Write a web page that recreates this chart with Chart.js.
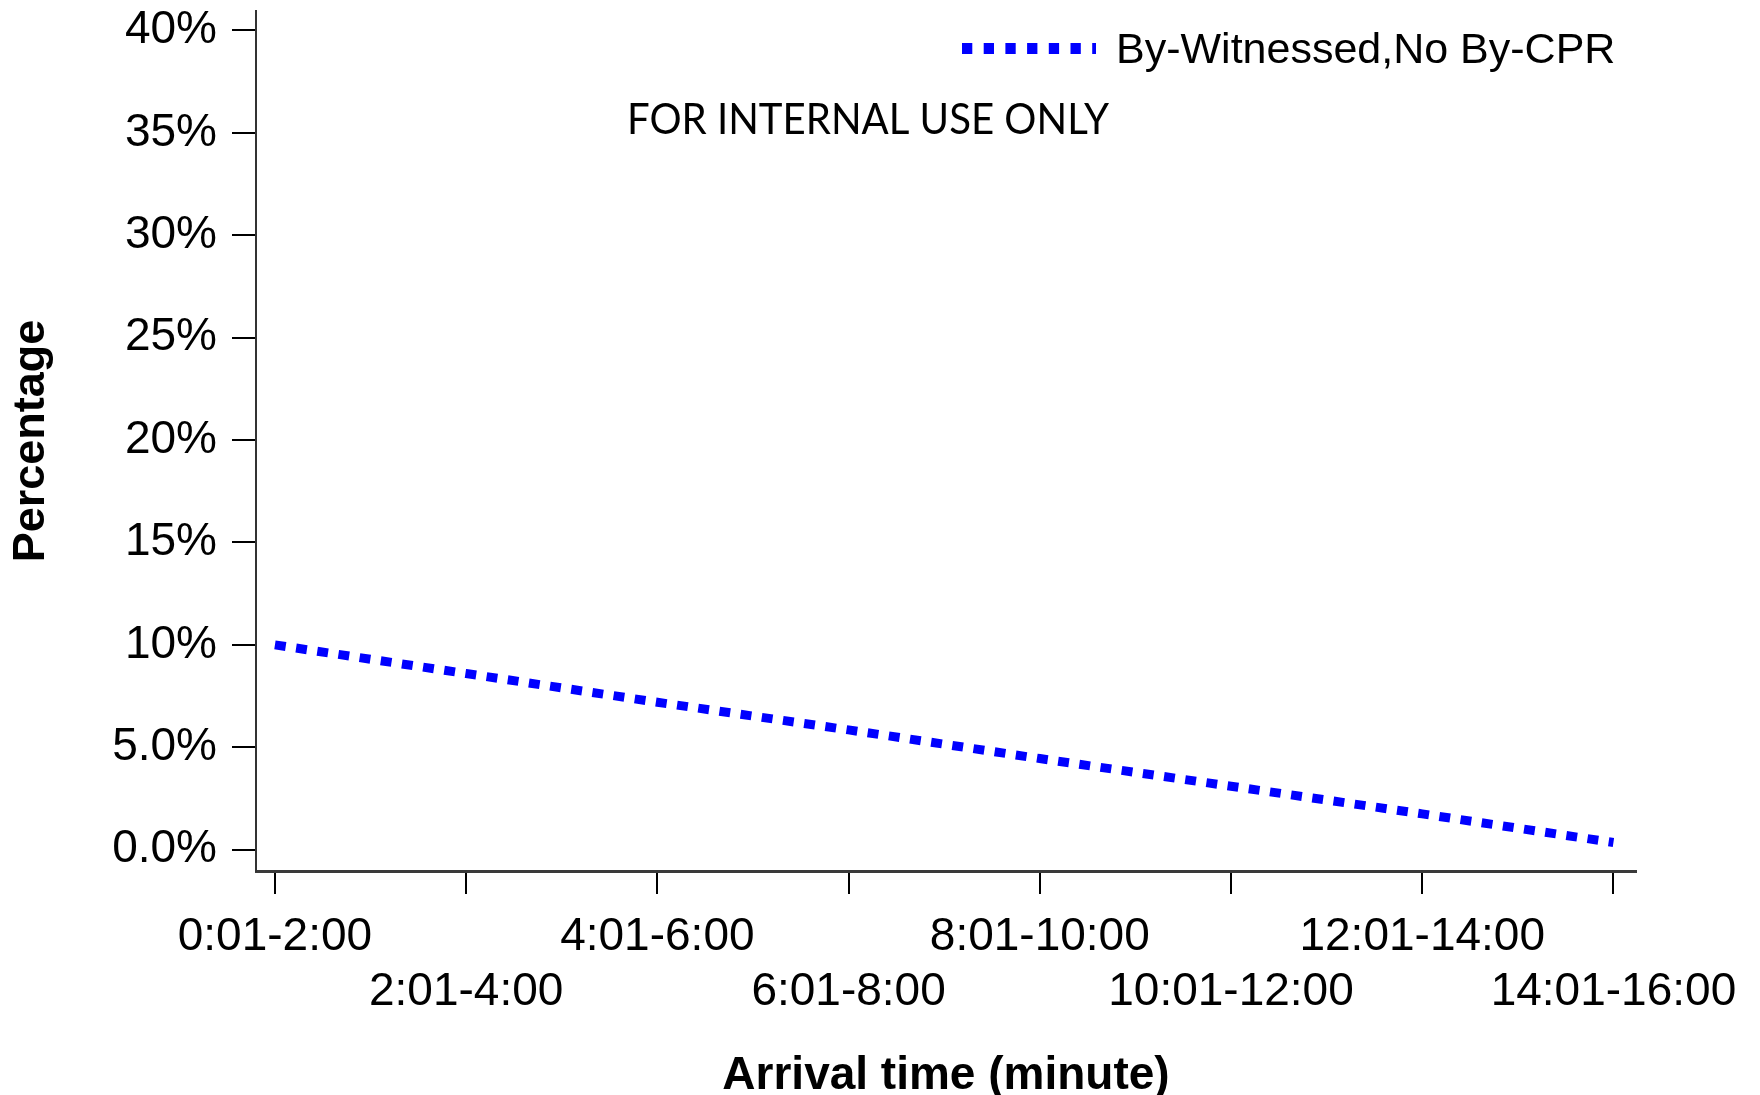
<!DOCTYPE html>
<html lang="en">
<head>
<meta charset="UTF-8">
<title>Arrival time vs percentage</title>
<style>
  body{margin:0;background:#fff}
  #chart{display:block}
</style>
</head>
<body>
<canvas id="chart" width="1760" height="1095"></canvas>

<script src="https://cdn.jsdelivr.net/npm/chart.js@4.4.0/dist/chart.umd.min.js"></script>
<script>
/* ---------- Datos ---------- */
const categories = ['0:01-2:00','2:01-4:00','4:01-6:00','6:01-8:00',
                    '8:01-10:00','10:01-12:00','12:01-14:00','14:01-16:00'];
const witnessedNoCpr = [10.0, 8.6, 7.2, 5.85, 4.45, 3.1, 1.75, 0.35];
const yTickValues = [0, 5, 10, 15, 20, 25, 30, 35, 40];
const yTickLabels = ['0.0%','5.0%','10%','15%','20%','25%','30%','35%','40%'];
const seriesName = 'By-Witnessed,No By-CPR';
const watermark = 'FOR INTERNAL USE ONLY';

const FONT = '"Liberation Sans", Arial, sans-serif';

/* ---------- Leyenda + marca de agua ---------- */
const extras = {
  id:'extras',
  afterDraw(chart){
    const {ctx} = chart;
    const ds = chart.data.datasets[0];
    ctx.save();
    // muestra de línea
    ctx.strokeStyle = ds.borderColor; ctx.lineWidth = 11; ctx.lineCap = 'butt';
    ctx.setLineDash([10.3, 11.4]);
    ctx.beginPath(); ctx.moveTo(962, 48.5); ctx.lineTo(1096, 48.5); ctx.stroke();
    ctx.setLineDash([]);
    ctx.fillStyle = '#000'; ctx.textBaseline = 'alphabetic'; ctx.textAlign = 'left';
    ctx.font = '43px ' + FONT;
    ctx.fillText(ds.label, 1116, 63);
    // marca de agua
    ctx.font = '42px Lato, "Open Sans", sans-serif';
    const w = ctx.measureText(watermark).width;
    ctx.translate(627, 134); ctx.scale(482 / w, 1);
    ctx.fillText(watermark, 0, 0);
    ctx.restore();
  }
};

/* ---------- Gráfica ---------- */
new Chart(document.getElementById('chart'), {
  type:'line',
  data:{
    datasets:[{
      label: seriesName,
      data: witnessedNoCpr.map((v,i)=>({x:i, y:v})),
      borderColor:'#0000ff', borderWidth:9, borderDash:[10.9, 10.5],
      borderCapStyle:'butt', pointRadius:0, tension:0, fill:false
    }]
  },
  options:{
    responsive:false, animation:false, devicePixelRatio:1,
    layout:{padding:{top:11, right:124, left:0, bottom:0}},
    plugins:{legend:{display:false}, tooltip:{enabled:false}},
    scales:{
      x:{
        type:'linear', min:-0.099, max:7.118,
        afterBuildTicks: s => { s.ticks = categories.map((c,i)=>({value:i})); },
        afterFit: s => { s.height = 224; },
        ticks:{
          autoSkip:false, maxRotation:0, minRotation:0, padding:16, color:'#000',
          font:{family:FONT, size:46, lineHeight:1.19},
          callback:(v,i)=> i % 2 ? ['', categories[i]] : categories[i]
        },
        grid:{drawOnChartArea:false, drawTicks:true, tickLength:23, color:'#000', lineWidth:2},
        border:{display:true, color:'#3a3a3a', width:3},
        title:{display:true, text:'Arrival time (minute)', color:'#000',
               font:{family:FONT, size:46, weight:'bold', lineHeight:1},
               padding:{top:0, bottom:-4}}
      },
      y:{
        min:-1.04, max:40.95,
        afterBuildTicks: s => { s.ticks = yTickValues.map(v=>({value:v})); },
        afterFit: s => { s.width = 256; s.paddingTop = 0; s.paddingBottom = 0; },
        ticks:{
          padding:15, color:'#000',
          font:{family:FONT, size:46},
          callback:(v)=> yTickLabels[yTickValues.indexOf(v)]
        },
        grid:{drawOnChartArea:false, drawTicks:true, tickLength:24, color:'#000', lineWidth:2},
        border:{display:true, color:'#333', width:2},
        title:{display:true, text:'Percentage', color:'#000',
               font:{family:FONT, size:45, weight:'bold', lineHeight:1.2},
               padding:{top:5, bottom:0}}
      }
    }
  },
  plugins:[extras]
});
</script>
</body>
</html>
